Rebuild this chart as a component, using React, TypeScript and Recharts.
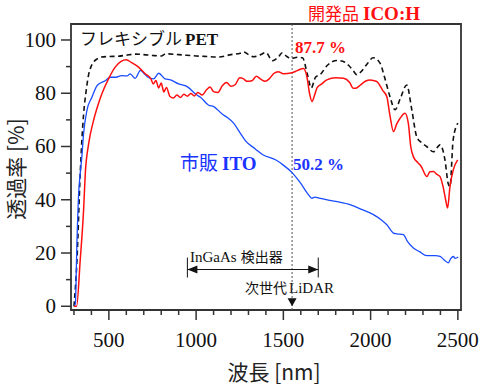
import React from 'react';
import { LineChart, Line, XAxis, YAxis, ReferenceArea, ReferenceLine, ReferenceDot } from 'recharts';

// wavelength [nm], transmittance [%]
const petData = [
  [300, 0], [317, 17], [336, 50], [345, 62], [355, 72], [370, 81], [384, 87], [398, 90], [412, 91.7],
  [435, 93], [458, 93.6], [500, 93.8], [555, 93.9], [600, 94.3], [651, 94.7], [700, 94.5], [750, 94.2],
  [801, 94], [825, 94.8], [900, 94.5], [1000, 94], [1060, 93.8], [1128, 93.6], [1200, 94.5], [1253, 95],
  [1272, 95.5], [1300, 94.5], [1329, 93.7], [1370, 94.5], [1400, 95.3], [1437, 92.2], [1470, 93.5],
  [1494, 95.2], [1520, 93.8], [1541, 93], [1580, 93.5], [1610, 93.3], [1637, 87.3], [1660, 82],
  [1684, 86], [1711, 87], [1751, 90.4], [1808, 92.3], [1840, 92], [1875, 90.4], [1900, 88.5],
  [1920, 87], [1951, 88.5], [1980, 91], [2015, 93.3], [2054, 91.3], [2080, 86], [2111, 78.7],
  [2140, 73.8], [2170, 78], [2207, 83.1], [2236, 73.8], [2264, 63.7], [2290, 61.5], [2321, 60],
  [2360, 58], [2398, 60.6], [2426, 55], [2445, 46], [2455, 45], [2473, 62.5], [2500, 68.8],
];

const icoData = [
  [300, 0], [315, 0], [336, 17.5], [355, 36], [365, 50], [384, 61], [412, 69.7], [435, 75], [460, 79.8],
  [498, 85.4], [536, 89.8], [570, 92], [600, 92.6], [630, 91.5], [670, 89.8], [708, 87.3], [740, 85.5],
  [755, 83.5], [770, 84.8], [785, 82], [800, 83.8], [815, 80.5], [830, 82.2], [850, 78.8], [870, 78.2], [890, 79.3],
  [910, 78.4], [930, 79.6], [950, 78.9], [970, 79.9], [990, 79], [1010, 80.3], [1035, 79.3], [1060, 81.3],
  [1080, 82.3], [1100, 80.6], [1125, 80.3], [1150, 82.8], [1175, 84], [1200, 82.6], [1225, 83.3],
  [1250, 85.8], [1270, 85.5], [1290, 84.5], [1320, 84.7], [1345, 86.4], [1370, 85.3], [1395, 84.5],
  [1420, 85.5], [1445, 87.4], [1470, 88.1], [1500, 87.3], [1550, 87.7], [1580, 88.5], [1615, 89.3],
  [1635, 86.2], [1650, 80], [1664, 76.9], [1680, 79.5], [1692, 81.9], [1720, 83.5], [1749, 85],
  [1800, 85.8], [1845, 85.6], [1880, 84], [1900, 81.9], [1915, 81.9], [1940, 83], [1970, 84.5],
  [1997, 85], [2035, 84.4], [2070, 81], [2093, 78.7], [2110, 72], [2131, 65.6], [2150, 68.5],
  [2169, 70.6], [2197, 72.5], [2216, 68.8], [2230, 60], [2245, 56.2], [2270, 54], [2290, 52.5],
  [2322, 48.7], [2340, 50.5], [2360, 50.6], [2380, 49.5], [2398, 48.7], [2415, 45], [2430, 40],
  [2441, 36.9], [2455, 45], [2474, 51.3], [2499, 55],
];

const itoData = [
  [300, 0], [308, 1], [317, 24], [327, 42.6], [336, 50], [345, 56], [355, 64.8], [374, 73.5], [403, 78.5],
  [434, 83], [479, 84.7], [508, 86], [540, 86], [574, 86.6], [605, 86.5], [622, 87.3], [651, 85.6],
  [681, 88.6], [700, 87.5], [720, 86.2], [756, 85.4], [786, 87.5], [822, 85.4], [853, 85], [900, 83.5],
  [949, 82.5], [1000, 79.5], [1025, 78.5], [1072, 75.5], [1101, 75], [1149, 72.2], [1177, 71],
  [1215, 68.8], [1253, 65], [1282, 62.2], [1339, 59.1], [1380, 57], [1455, 55], [1500, 53],
  [1550, 50.2], [1598, 46.3], [1637, 42.5], [1665, 40.6], [1680, 41], [1704, 40.6], [1799, 39.4],
  [1885, 38.1], [1951, 36.3], [2016, 34.4], [2060, 32.5], [2093, 30.6], [2131, 27.5], [2150, 27.2],
  [2188, 26.9], [2210, 24.5], [2245, 21.9], [2280, 20.5], [2322, 19], [2370, 19], [2398, 18.7],
  [2420, 17.5], [2445, 16.3], [2460, 18], [2474, 18.7], [2485, 18], [2502, 18.5],
];

const xTicks = [300, 400, 500, 600, 700, 800, 900, 1000, 1100, 1200, 1300, 1400, 1500, 1600, 1700, 1800, 1900, 2000, 2100, 2200, 2300, 2400, 2500];
const yTicks = [0, 10, 20, 30, 40, 50, 60, 70, 80, 90, 100];

const toPts = (arr: number[][]) => arr.map(([wl, t]) => ({ wl, t }));

const SERIF = '"Liberation Serif"';
const JP = '"Noto Sans CJK JP"';
const RED = '#ff0f0f';
const BLUE = '#1a4cff';
const BLUE_TEXT = '#1a33ff';
const AXIS = '#333';

const YTick = (props: any) => {
  const { x, y, payload } = props;
  const major = payload.value % 20 === 0;
  return (
    <g>
      <line x1={x} x2={x - (major ? 10 : 5)} y1={y} y2={y} stroke={AXIS} strokeWidth={1.5} />
      {major && (
        <text x={x - 15} y={y + 7} textAnchor="end" fontFamily={SERIF} fontSize={21} fill="#111">
          {payload.value}
        </text>
      )}
    </g>
  );
};

const XTick = (props: any) => {
  const { x, y, payload } = props;
  const major = payload.value % 500 === 0;
  return (
    <g>
      <line x1={x} x2={x} y1={y} y2={y + (major ? 10 : 5)} stroke={AXIS} strokeWidth={1.5} />
      {major && (
        <text x={x} y={y + 37} textAnchor="middle" fontFamily={SERIF} fontSize={21} fill="#111">
          {payload.value}
        </text>
      )}
    </g>
  );
};

const App = () => {
  return (
    <div style={{ position: 'absolute', left: 0, top: 0 }}>
      <LineChart width={480} height={385} margin={{ top: 24, right: 19, bottom: 0, left: 0 }}>
        <XAxis
          dataKey="wl"
          type="number"
          domain={[283, 2518]}
          allowDataOverflow
          ticks={xTicks}
          interval={0}
          tick={<XTick />}
          tickLine={false}
          axisLine={false}
          tickSize={0}
          tickMargin={0}
          height={75}
        />
        <YAxis
          dataKey="t"
          type="number"
          domain={[-1.4, 106]}
          allowDataOverflow
          ticks={yTicks}
          interval={0}
          tick={<YTick />}
          tickLine={false}
          axisLine={false}
          tickSize={0}
          tickMargin={0}
          width={71}
        />
        <ReferenceArea x1={283} x2={2518} y1={-1.4} y2={106} fill="none" stroke={AXIS} strokeWidth={1.8} ifOverflow="visible" />
        <ReferenceLine x={1550} stroke="#555" strokeDasharray="2 2" strokeWidth={1} />

        <Line data={toPts(petData)} dataKey="t" type="monotone" stroke="#111" strokeWidth={1.6} strokeDasharray="5 3.5" dot={false} isAnimationActive={false} />
        <Line data={toPts(itoData)} dataKey="t" type="monotone" stroke={BLUE} strokeWidth={1.3} dot={false} isAnimationActive={false} />
        <Line data={toPts(icoData)} dataKey="t" type="monotone" stroke={RED} strokeWidth={1.5} dot={false} isAnimationActive={false} />

        <ReferenceLine segment={[{ x: 950, y: 13.8 }, { x: 1700, y: 13.8 }]} stroke="#111" strokeWidth={1} />
        <ReferenceLine segment={[{ x: 950, y: 10.8 }, { x: 950, y: 18.3 }]} stroke="#111" strokeWidth={1} />
        <ReferenceLine segment={[{ x: 1700, y: 10.8 }, { x: 1700, y: 18.3 }]} stroke="#111" strokeWidth={1} />
        <ReferenceDot x={950} y={13.8} shape={(p: any) => <path d={`M${p.cx},${p.cy} l10,-4 l0,8 z`} fill="#111" />} />
        <ReferenceDot x={1700} y={13.8} shape={(p: any) => <path d={`M${p.cx},${p.cy} l-10,-4 l0,8 z`} fill="#111" />} />
        <ReferenceDot x={1550} y={0} shape={(p: any) => <path d={`M${p.cx},${p.cy} l-4.5,-8 l9,0 z`} fill="#111" />} />

        <text x={80} y={45} fontSize={17} fill="#111">
          <tspan fontFamily={JP}>フレキシブル</tspan>
          <tspan fontFamily={SERIF} fontWeight="bold" dx={3}>PET</tspan>
        </text>
        <text x={308} y={20} fontSize={17} fill={RED}>
          <tspan fontFamily={JP}>開発品</tspan>
          <tspan fontFamily={SERIF} fontSize={19} fontWeight="bold" dx={4}>ICO:H</tspan>
        </text>
        <text x={295} y={53} fontSize={17} fill={RED} fontFamily={SERIF} fontWeight="bold">87.7 %</text>
        <text x={180} y={170} fontSize={19} fill={BLUE_TEXT}>
          <tspan fontFamily={JP}>市販</tspan>
          <tspan fontFamily={SERIF} fontWeight="bold" dx={4}>ITO</tspan>
        </text>
        <text x={293} y={170} fontSize={17} fill={BLUE_TEXT} fontFamily={SERIF} fontWeight="bold">50.2 %</text>
        <text x={190} y={262} fontSize={14} fill="#111">
          <tspan fontFamily={SERIF} fontSize={15}>InGaAs</tspan>
          <tspan fontFamily={JP} dx={4}>検出器</tspan>
        </text>
        <text x={245} y={293} fontSize={14} fill="#111">
          <tspan fontFamily={JP}>次世代</tspan>
          <tspan fontFamily={SERIF} fontSize={15} dx={2}>LiDAR</tspan>
        </text>
        <text x={274} y={380} textAnchor="middle" fontFamily={JP} fontSize={21} fill="#222">波長 [nm]</text>
        <text x={24} y={169} textAnchor="middle" fontFamily={JP} fontSize={21} fill="#222" transform="rotate(-90 24 169)">透過率 [%]</text>
      </LineChart>
    </div>
  );
};

export default App;
